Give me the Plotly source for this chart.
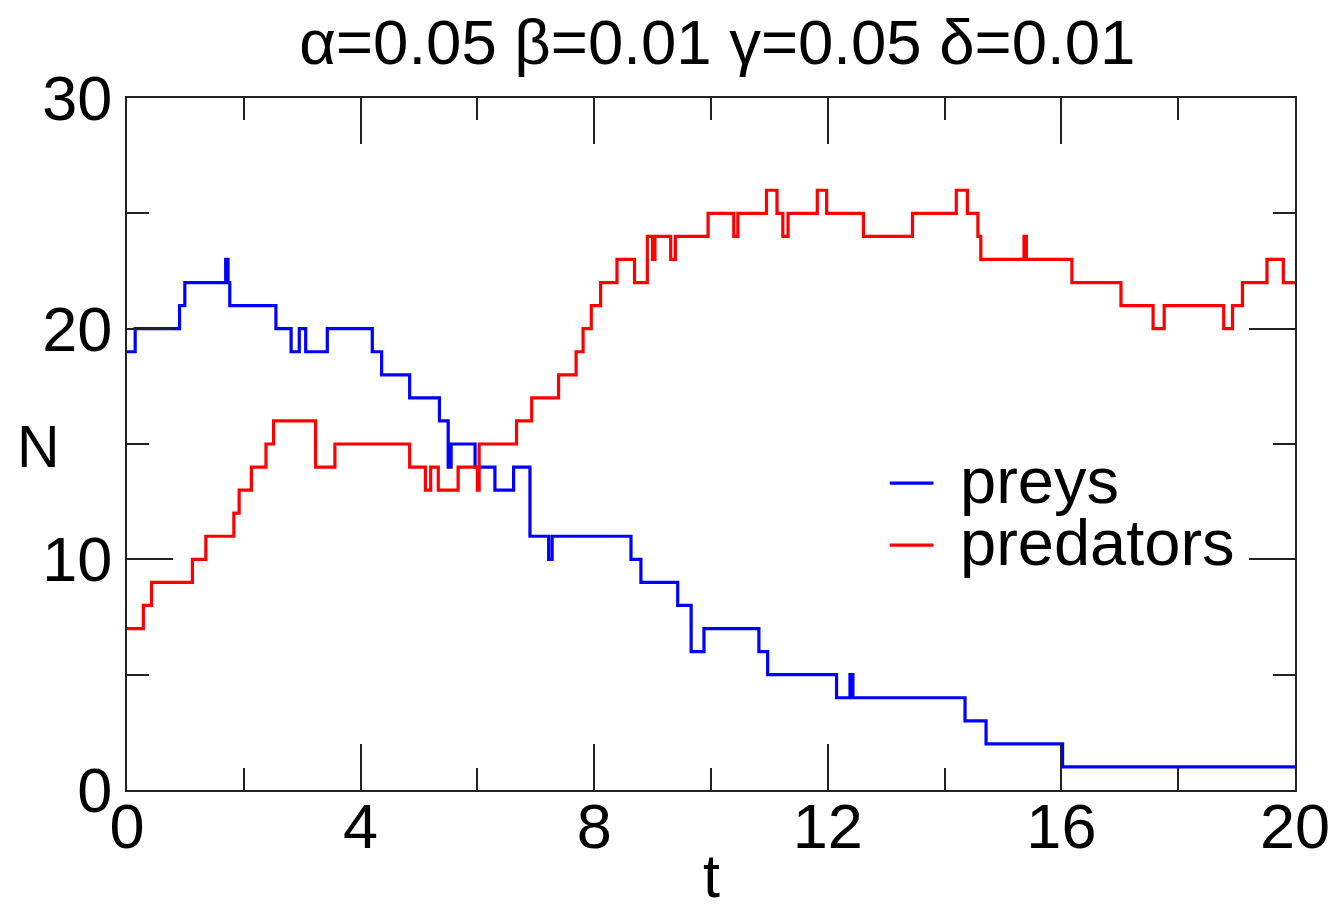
import plotly.graph_objects as go

# ---- data ----
prey_t = [0, 0.14, 0.90, 0.99, 1.69, 1.73, 1.76, 2.55, 2.81, 2.95, 3.06, 3.43, 4.20, 4.36,
          4.84, 5.35, 5.50, 5.55, 5.96, 6.30, 6.62, 6.90, 7.22, 7.28, 8.63, 8.80, 9.43,
          9.66, 9.88, 10.82, 10.97, 12.15, 12.38, 12.43, 14.35, 14.71, 16.02, 20]
prey_n = [19, 20, 21, 22, 23, 22, 21, 20, 19, 20, 19, 20, 19, 18,
          17, 16, 14, 15, 14, 13, 14, 11, 10, 11, 10, 9, 8,
          6, 7, 6, 5, 4, 5, 4, 3, 2, 1, 1]

pred_t = [0, 0.28, 0.42, 1.12, 1.35, 1.83, 1.92, 2.13, 2.38, 2.51, 3.23, 3.56, 4.84,
          5.11, 5.20, 5.33, 5.67, 6.00, 6.03, 6.67, 6.93, 7.39, 7.69, 7.81, 7.95, 8.11,
          8.39, 8.69, 8.91, 9.00, 9.04, 9.31, 9.39, 9.95, 10.39, 10.46, 10.95, 11.13,
          11.23, 11.32, 11.82, 11.98, 12.61, 13.45, 14.20, 14.39, 14.57, 14.62, 15.36,
          15.40, 16.18, 17.02, 17.57, 17.76, 18.78, 18.93, 19.10, 19.52, 19.80, 20]
pred_n = [7, 8, 9, 10, 11, 12, 13, 14, 15, 16, 14, 15, 14,
          13, 14, 13, 14, 13, 15, 16, 17, 18, 19, 20, 21, 22,
          23, 22, 24, 23, 24, 23, 24, 25, 24, 25, 26, 25,
          24, 25, 26, 25, 24, 25, 26, 25, 24, 23, 24,
          23, 22, 21, 20, 21, 20, 21, 22, 23, 22, 22]

series_names = ["preys", "predators"]
series_colors = ["#0000ff", "#ff0000"]
x_ticks = [0, 4, 8, 12, 16, 20]
y_ticks = [0, 10, 20, 30]
title_text = "α=0.05 β=0.01 γ=0.05 δ=0.01"

FONT = "Liberation Sans, Arial, Helvetica, sans-serif"
FS = 63
AX = "#222222"

fig = go.Figure()
fig.add_trace(go.Scatter(x=prey_t, y=prey_n, mode="lines", line_shape="hv",
                         line=dict(color=series_colors[0], width=3.2),
                         name=series_names[0], showlegend=False))
fig.add_trace(go.Scatter(x=pred_t, y=pred_n, mode="lines", line_shape="hv",
                         line=dict(color=series_colors[1], width=3.2),
                         name=series_names[1], showlegend=False))
# empty trace to carry the mirrored (top/right) axes
fig.add_trace(go.Scatter(x=[], y=[], xaxis="x2", yaxis="y2", showlegend=False,
                         hoverinfo="skip"))

common = dict(showgrid=False, zeroline=False, showline=True, linecolor=AX, linewidth=2,
              ticks="inside", tickcolor=AX, tickwidth=2, ticklen=46)
tfont = dict(family=FONT, size=FS, color="black")

fig.update_layout(
    width=1342, height=904,
    margin=dict(l=127, r=41, t=98, b=114),
    paper_bgcolor="white", plot_bgcolor="white",
    font=dict(family=FONT, size=FS, color="black"),
    title=dict(text=title_text, x=0.5345, xanchor="center", y=1 - 42 / 904,
               yref="container", yanchor="middle",
               font=dict(family=FONT, size=63.5, color="black")),
    xaxis=dict(range=[0, 20], tickmode="array", tickvals=x_ticks,
               ticktext=[str(v) for v in x_ticks], tickfont=tfont,
               ticklabelstandoff=-20,
               minor=dict(dtick=2, ticks="inside", ticklen=22, tickcolor=AX, tickwidth=2),
               **common),
    yaxis=dict(range=[0, 30], tickmode="array", tickvals=y_ticks,
               ticktext=[str(v) for v in y_ticks], tickfont=tfont,
               minor=dict(dtick=5, ticks="inside", ticklen=22, tickcolor=AX, tickwidth=2),
               **common),
    xaxis2=dict(range=[0, 20], overlaying="x", side="top", anchor="y", tickmode="array",
                tickvals=x_ticks, showticklabels=False,
                minor=dict(dtick=2, ticks="inside", ticklen=22, tickcolor=AX, tickwidth=2),
                **common),
    yaxis2=dict(range=[0, 30], overlaying="y", side="right", anchor="x", tickmode="array",
                tickvals=y_ticks, showticklabels=False,
                minor=dict(dtick=5, ticks="inside", ticklen=22, tickcolor=AX, tickwidth=2),
                **common),
)

# axis titles
fig.add_annotation(text="N", xref="paper", yref="paper", x=-0.076, y=0.495,
                   xanchor="center", yanchor="middle", showarrow=False,
                   font=dict(family=FONT, size=FS - 4, color="black"))
fig.add_annotation(text="t", xref="paper", yref="paper", x=0.5, y=-0.072,
                   xanchor="center", yanchor="top", showarrow=False,
                   font=dict(family=FONT, size=FS - 2, color="black"))

# legend (drawn manually to match spacing)
leg_y = [0.4436, 0.354]
for name, col, yy in zip(series_names, series_colors, leg_y):
    fig.add_shape(type="line", xref="paper", yref="paper", x0=0.653, x1=0.6905,
                  y0=yy, y1=yy, line=dict(color=col, width=3.2))
    fig.add_annotation(text=name, xref="paper", yref="paper", x=0.7118, y=yy + 0.004,
                       xanchor="left", yanchor="middle", showarrow=False,
                       font=dict(family=FONT, size=65, color="black"))

fig.write_html("out.html")
